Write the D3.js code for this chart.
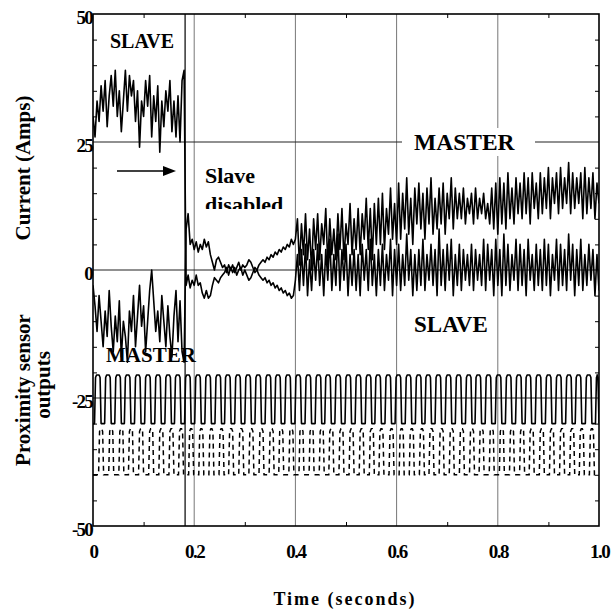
<!DOCTYPE html>
<html>
<head>
<meta charset="utf-8">
<script src="https://cdn.jsdelivr.net/npm/d3@7"></script>
<style>
  body { margin: 0; background: #fff; }
  text { font-family: "Liberation Serif", "Times New Roman", serif; font-weight: bold; fill: #000; }
</style>
</head>
<body>
<svg id="chart" width="616" height="616"></svg>
<script>
// sample interval of the current traces (seconds)
var sampleStep = 0.004;

// current traces (Amps), one value per sample
var slaveCurrent = [
  30, 26, 33, 29, 36, 31, 37, 28, 34, 38, 32, 39, 30, 35, 27, 33, 39, 31, 38, 34,
  37, 29, 35, 24, 33, 30, 37, 32, 38, 26, 34, 29, 36, 23, 33, 28, 35, 31, 37, 27,
  33, 26, 34, 25, 37, 39,
  -3, -1, -3.5, -2, -3, -1, -3, -2.5, -4.5, -5.5, -4, -5.5, -5, -3, -1.5, -2, -2.5, -1.5, -1, -0.5,
  0.5, -1, 0.5, -0.5, 0.5, -1, 0, 0.5, -1, 0, -1, -2, -1.5, -0.5, 0.5, 0, -1, -1.5, -2, -1.5,
  -2.5, -2, -3, -2.5, -3.5, -3, -4, -3.5, -4.5, -4, -5, -4.5, -5.5, -5, -2,
  3, -4, 4, -3, 5, -5, 2, -4, 4, -2,
  5, -3, 3, -5, 4, -2, 6, -4, 3, -3,
  7, -4, 4, -2, 5, -5, 3, -3, 4, -4,
  3, -5, 5, -2, 4, -4, 6, -3, 3, -5,
  4, -3, 5, -4, 3, -2, 6, -5, 4, -3,
  5, -4, 3, -3, 7, -2, 4, -5, 3, -4,
  4, -3, 6, -4, 3, -2, 5, -3, 4, -5,
  8, -3, 4, -4, 5, -2, 6, -5, 3, -3,
  5, -4, 4, -2, 3, -3, 5, -4, 4, -2,
  3, -3, 6, -4, 5, -2, 4, -5, 6, -3,
  4, -5, 7, -3, 5, -4, 3, -2, 6, -4,
  5, -3, 4, -5, 6, -2, 3, -4, 5, -3,
  4, -4, 6, -3, 5, -5, 3, -2, 6, -4,
  5, -3, 4, -4, 7, -2, 5, -5, 4, -3,
  6, -4, 3, -3, 5, -2, 4, -5, 3, -4
];

var masterCurrent = [
  -3, -7, -12, -5, -10, -15, -8, -13, -4, -11, -16, -9, -14, -6, -17, -10, -13, -18, -8, -12,
  -5, -15, -9, -3, -11, -7, -16, -10, -4, 0, -6, -12, -8, -14, -5, -10, -15, -7, -13, -17,
  -9, -4, -14, -6, -16, -18,
  8, 11, 5, 6, 4, 5.5, 3.5, 5, 4, 6, 4.5, 5.5, 3, 1.5, 0, 2, 2.5, 1.5, 0.5, 1,
  -0.5, 1, 0, 1, -0.5, 0.5, 1.5, 0, 1, 0.5, 1, 2, 1.5, 0.5, -0.5, 0, 1, 1.5, 2, 1.5,
  2.5, 2, 3, 2.5, 3.5, 3, 4, 3.5, 4.5, 4, 5, 4.5, 6, 5, 6,
  10, 1, 9, 3, 11, 2, 8, 0, 10, 4,
  11, 2, 9, 5, 12, 1, 10, 3, 8, 2,
  11, 4, 12, 2, 9, 5, 13, 3, 10, 4,
  12, 3, 11, 6, 14, 4, 12, 2, 13, 5,
  14, 5, 15, 4, 12, 7, 16, 6, 13, 5,
  17, 6, 15, 8, 18, 7, 14, 5, 16, 9,
  17, 8, 15, 6, 16, 9, 18, 7, 14, 8,
  16, 9, 17, 7, 15, 10, 18, 8, 16, 10,
  15, 10, 16, 9, 14, 11, 15, 9, 16, 10,
  14, 11, 15, 10, 13, 9, 16, 8, 17, 7,
  18, 9, 17, 8, 19, 10, 16, 9, 18, 11,
  17, 10, 19, 11, 18, 9, 19, 12, 17, 10,
  19, 11, 18, 12, 20, 10, 18, 13, 19, 11,
  20, 12, 18, 13, 21, 11, 19, 12, 18, 13,
  19, 10, 20, 11, 18, 12, 19, 10, 17, 13
];

// proximity sensor pulses (seconds) and levels
var proxARise = [0.003, 0.023, 0.043, 0.062, 0.082, 0.102, 0.122, 0.142, 0.161, 0.181,
  0.201, 0.221, 0.241, 0.260, 0.280, 0.300, 0.320, 0.340, 0.359, 0.379,
  0.399, 0.419, 0.439, 0.458, 0.478, 0.498, 0.518, 0.538, 0.557, 0.577,
  0.597, 0.617, 0.637, 0.656, 0.676, 0.696, 0.716, 0.736, 0.755, 0.775,
  0.795, 0.815, 0.835, 0.854, 0.874, 0.894, 0.914, 0.934, 0.953, 0.973, 0.993];
var proxAFall = [0.016, 0.036, 0.056, 0.075, 0.095, 0.115, 0.135, 0.155, 0.174, 0.194,
  0.214, 0.234, 0.254, 0.273, 0.293, 0.313, 0.333, 0.353, 0.372, 0.392,
  0.412, 0.432, 0.452, 0.471, 0.491, 0.511, 0.531, 0.551, 0.570, 0.590,
  0.610, 0.630, 0.650, 0.669, 0.689, 0.709, 0.729, 0.749, 0.768, 0.788,
  0.808, 0.828, 0.848, 0.867, 0.887, 0.907, 0.927, 0.947, 0.966, 0.986, 1.0];
var proxALevels = [-30, -20.5];

var proxBRise = [0.011, 0.031, 0.051, 0.070, 0.090, 0.110, 0.130, 0.150, 0.169, 0.189,
  0.209, 0.229, 0.249, 0.268, 0.288, 0.308, 0.328, 0.348, 0.367, 0.387,
  0.407, 0.427, 0.447, 0.466, 0.486, 0.506, 0.526, 0.546, 0.565, 0.585,
  0.605, 0.625, 0.645, 0.664, 0.684, 0.704, 0.724, 0.744, 0.763, 0.783,
  0.803, 0.823, 0.843, 0.862, 0.882, 0.902, 0.922, 0.942, 0.961, 0.981];
var proxBFall = [0.021, 0.041, 0.061, 0.080, 0.100, 0.120, 0.140, 0.160, 0.179, 0.199,
  0.219, 0.239, 0.259, 0.278, 0.298, 0.318, 0.338, 0.358, 0.377, 0.397,
  0.417, 0.437, 0.457, 0.476, 0.496, 0.516, 0.536, 0.556, 0.575, 0.595,
  0.615, 0.635, 0.655, 0.674, 0.694, 0.714, 0.734, 0.754, 0.773, 0.793,
  0.813, 0.833, 0.853, 0.872, 0.892, 0.912, 0.932, 0.952, 0.971, 0.991];
var proxBLevels = [-40, -31];

var slaveDisabledAt = 0.182;

// axes
var xTickValues = [0, 0.2, 0.4, 0.6, 0.8, 1.0];
var xTickLabels = ["0", "0.2", "0.4", "0.6", "0.8", "1.0"];
var xMinorTicks = [0.1, 0.3, 0.5, 0.7, 0.9];
var yTickValues = [50, 25, 0, -25, -50];
var yTickLabels = ["50", "25", "0", "-25", "-50"];
var yMinorTicks = [45, 40, 35, 30, 20, 15, 10, 5, -5, -10, -15, -20, -30, -35, -40, -45];
var xGrid = [0.2, 0.4, 0.6, 0.8];
var yGrid = [25, 0, -25];

var svg = d3.select("#chart");
var x = d3.scaleLinear().domain([0, 1]).range([93, 599]);
var y = d3.scaleLinear().domain([-50, 50]).range([526, 14]);

svg.append("rect").attr("width", 616).attr("height", 616).attr("fill", "#fff");

svg.append("defs").append("clipPath").attr("id", "plot")
  .append("rect").attr("x", 93).attr("y", 14).attr("width", 506).attr("height", 512);
svg.select("defs").append("clipPath").attr("id", "cut")
  .append("rect").attr("x", 0).attr("y", 0).attr("width", 616).attr("height", 209);

// grid
svg.selectAll(".vgrid").data(xGrid).enter().append("line")
  .attr("x1", d => x(d)).attr("x2", d => x(d)).attr("y1", y(50)).attr("y2", y(-50))
  .attr("stroke", "#777").attr("stroke-width", 1);
svg.selectAll(".hgrid").data(yGrid).enter().append("line")
  .attr("x1", x(0)).attr("x2", x(1)).attr("y1", d => y(d)).attr("y2", d => y(d))
  .attr("stroke", "#222").attr("stroke-width", 1.2);

// minor ticks on all four sides
function minor(g) { g.select(".domain").remove(); g.selectAll("line").attr("stroke", "#000"); }
svg.append("g").attr("transform", "translate(0," + y(-50) + ")")
  .call(d3.axisBottom(x).tickValues(xMinorTicks).tickSize(-4).tickFormat("")).call(minor);
svg.append("g").attr("transform", "translate(0," + y(50) + ")")
  .call(d3.axisTop(x).tickValues(xMinorTicks).tickSize(-4).tickFormat("")).call(minor);
svg.append("g").attr("transform", "translate(" + x(0) + ",0)")
  .call(d3.axisLeft(y).tickValues(yMinorTicks).tickSize(-4).tickFormat("")).call(minor);
svg.append("g").attr("transform", "translate(" + x(1) + ",0)")
  .call(d3.axisRight(y).tickValues(yMinorTicks).tickSize(-4).tickFormat("")).call(minor);

// labels drawn under the traces
svg.append("text").attr("x", 106).attr("y", 362).attr("font-size", 21).text("MASTER");

var plot = svg.append("g").attr("clip-path", "url(#plot)");

// slave disabled marker
plot.append("line")
  .attr("x1", x(slaveDisabledAt)).attr("x2", x(slaveDisabledAt))
  .attr("y1", y(50)).attr("y2", y(-50))
  .attr("stroke", "#000").attr("stroke-width", 1.2);

var line = d3.line().x((d, i) => x(i * sampleStep)).y(d => y(d));
plot.append("path").datum(slaveCurrent).attr("d", line)
  .attr("fill", "none").attr("stroke", "#000").attr("stroke-width", 1.6).attr("stroke-linejoin", "round");
plot.append("path").datum(masterCurrent).attr("d", line)
  .attr("fill", "none").attr("stroke", "#000").attr("stroke-width", 1.6).attr("stroke-linejoin", "round");

function pulsePoints(rise, fall, levels) {
  var pts = [[0, levels[0]]];
  rise.forEach(function (r, i) {
    pts.push([r, levels[0]]);
    pts.push([r + 0.002, levels[1] - 0.5]);
    pts.push([r + 0.004, levels[1]]);
    pts.push([fall[i] - 0.004, levels[1]]);
    pts.push([fall[i] - 0.002, levels[1] - 0.5]);
    pts.push([fall[i], levels[0]]);
  });
  pts.push([1, levels[0]]);
  return pts;
}
var pline = d3.line().x(d => x(d[0])).y(d => y(d[1]));
plot.append("path").datum(pulsePoints(proxARise, proxAFall, proxALevels)).attr("d", pline)
  .attr("fill", "none").attr("stroke", "#000").attr("stroke-width", 1.6).attr("stroke-linejoin", "round");
plot.append("path").datum(pulsePoints(proxBRise, proxBFall, proxBLevels)).attr("d", pline)
  .attr("fill", "none").attr("stroke", "#000").attr("stroke-width", 1.5)
  .attr("stroke-dasharray", "5,4");

// frame
svg.append("rect").attr("x", x(0)).attr("y", y(50)).attr("width", x(1) - x(0)).attr("height", y(-50) - y(50))
  .attr("fill", "none").attr("stroke", "#000").attr("stroke-width", 1.6);

// tick labels
var xAxis = svg.append("g").attr("transform", "translate(0," + y(-50) + ")")
  .call(d3.axisBottom(x).tickValues(xTickValues).tickSize(0).tickFormat((d, i) => xTickLabels[i]));
xAxis.select(".domain").remove();
xAxis.selectAll("text").attr("y", 32).attr("dy", 0)
  .attr("font-size", 19).attr("letter-spacing", "-1.5px").attr("font-family", null);

var yAxis = svg.append("g").attr("transform", "translate(" + x(0) + ",0)")
  .call(d3.axisLeft(y).tickValues(yTickValues).tickSize(0).tickFormat((d, i) => yTickLabels[i]));
yAxis.select(".domain").remove();
yAxis.selectAll("text").attr("x", -1).attr("dy", "0.5em")
  .attr("font-size", 19).attr("letter-spacing", "-1.8px").attr("font-family", null);

// annotations
svg.append("text").attr("x", 110).attr("y", 48).attr("font-size", 20).text("SLAVE");
svg.append("rect").attr("x", 402).attr("y", 128).attr("width", 133).attr("height", 28).attr("fill", "#fff");
svg.append("text").attr("x", 414).attr("y", 150).attr("font-size", 23.5).text("MASTER");
svg.append("text").attr("x", 414).attr("y", 332).attr("font-size", 23).text("SLAVE");
svg.append("text").attr("x", 205).attr("y", 183).attr("font-size", 22).text("Slave");
svg.append("text").attr("x", 205).attr("y", 212).attr("font-size", 22)
  .attr("clip-path", "url(#cut)").text("disabled");

// arrow
svg.append("line").attr("x1", 117).attr("x2", 165).attr("y1", 171).attr("y2", 171)
  .attr("stroke", "#000").attr("stroke-width", 1.6);
svg.append("path").attr("d", "M163,166 L176,171 L163,176 Z").attr("fill", "#000");

// axis titles
svg.append("text").attr("transform", "translate(30,168) rotate(-90)")
  .attr("text-anchor", "middle").attr("font-size", 21).text("Current (Amps)");
svg.append("text").attr("transform", "translate(30,390) rotate(-90)")
  .attr("text-anchor", "middle").attr("font-size", 21).text("Proximity sensor");
svg.append("text").attr("transform", "translate(50,385) rotate(-90)")
  .attr("text-anchor", "middle").attr("font-size", 21).text("outputs");
svg.append("text").attr("x", 345).attr("y", 605).attr("text-anchor", "middle")
  .attr("font-size", 18).attr("letter-spacing", "2px").text("Time (seconds)");
</script>
</body>
</html>
